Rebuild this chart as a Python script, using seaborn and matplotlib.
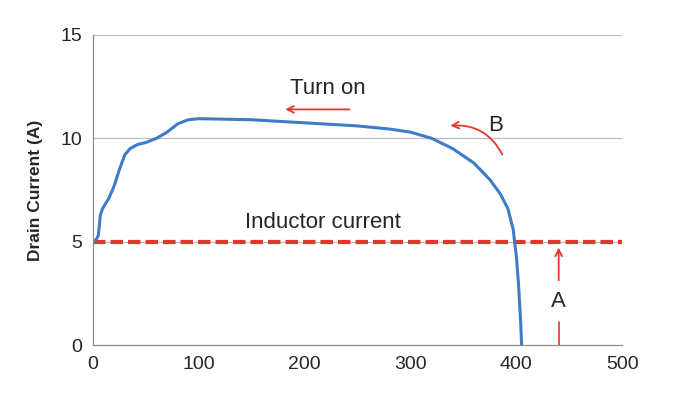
import matplotlib
matplotlib.use("Agg")
import matplotlib.pyplot as plt
import seaborn as sns
import pandas as pd

time_ns = [0, 3, 5, 7, 9, 15, 20, 25, 30, 35, 42, 50, 60, 70, 80, 90, 100, 150, 200, 250, 280, 300, 320, 340, 360, 375, 385, 392, 397, 400, 402, 404, 405]
drain_a = [5.0, 5.1, 5.3, 6.3, 6.6, 7.1, 7.7, 8.5, 9.2, 9.5, 9.7, 9.8, 10.0, 10.3, 10.7, 10.9, 10.95, 10.9, 10.75, 10.6, 10.45, 10.3, 10.0, 9.5, 8.8, 8.0, 7.3, 6.6, 5.6, 4.3, 3.0, 1.2, 0.0]
inductor_x = [0, 500]
inductor_y = [5, 5]

sns.set_theme(style="white")
plt.rcParams['font.family'] = ['Liberation Sans', 'DejaVu Sans']
fig = plt.figure(figsize=(6.89, 4.0), dpi=100)
ax = fig.add_axes([0.135, 0.1375, 0.768, 0.775])
for yv in [5, 10, 15]:
    ax.axhline(yv, color="#bfbfbf", lw=0.9, zorder=0)
sns.lineplot(x=inductor_x, y=inductor_y, ax=ax, color="#e0382d", lw=3, linestyle=(0, (3, 1.2)))
sns.lineplot(x=time_ns, y=drain_a, ax=ax, color="#3d7cc9", lw=2.2, sort=False)
ax.set_xlim(0, 500); ax.set_ylim(0, 15)
ax.set_xticks([0, 100, 200, 300, 400, 500]); ax.set_yticks([0, 5, 10, 15])
ax.tick_params(labelsize=14, length=0, pad=8)
for s in ["top", "right"]:
    ax.spines[s].set_visible(False)
for s in ["left", "bottom"]:
    ax.spines[s].set_color("#8c8c8c"); ax.spines[s].set_linewidth(0.9)
ax.set_ylabel("Drain Current (A)", fontsize=12.5, fontweight="bold", labelpad=12)
red = "#e0382d"
ax.text(222, 12.4, "Turn on", fontsize=16, ha="center", va="center")
ax.annotate("", xy=(179, 11.4), xytext=(245, 11.4), arrowprops=dict(arrowstyle="->", color=red, lw=1.3))
ax.text(380, 10.6, "B", fontsize=16, ha="center", va="center")
ax.annotate("", xy=(335, 10.6), xytext=(388, 9.1), arrowprops=dict(arrowstyle="->", color=red, lw=1.3, connectionstyle="arc3,rad=0.35"))
ax.text(217, 5.95, "Inductor current", fontsize=16, ha="center", va="center")
ax.text(440, 2.1, "A", fontsize=16, ha="center", va="center")
ax.plot([440, 440], [0, 1.1], color=red, lw=1.2)
ax.annotate("", xy=(440, 4.85), xytext=(440, 3.0), arrowprops=dict(arrowstyle="->", color=red, lw=1.3))
fig.savefig("out.png", dpi=100)
